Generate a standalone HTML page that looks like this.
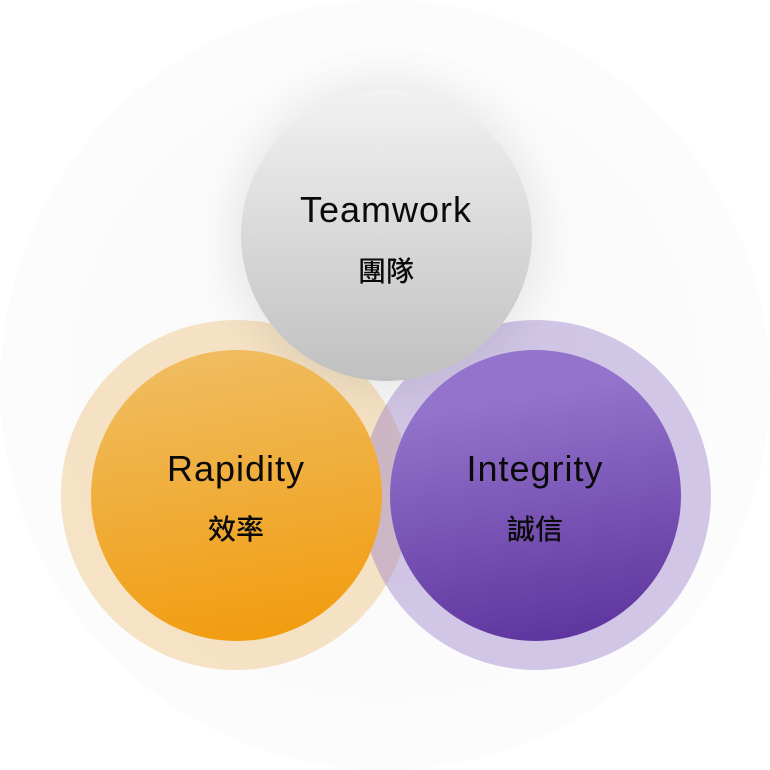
<!DOCTYPE html>
<html><head><meta charset="utf-8"><style>
html,body{margin:0;padding:0;background:#fff;}
.wrap{position:relative;width:770px;height:770px;overflow:hidden;background:#fff;}
.c{position:absolute;border-radius:50%;}
.t{position:absolute;width:300px;text-align:center;color:#0a0a0a;font-family:"Liberation Sans","Noto Sans CJK TC",sans-serif;}
.en{font-size:36px;letter-spacing:1px;}
.zh{font-size:28px;font-weight:500;}
</style></head><body><div class="wrap">
<div class="c" style="left:0;top:0;width:770px;height:770px;background:radial-gradient(circle,rgba(242,242,242,0.5) 0%,rgba(246,246,246,0.4) 60%,rgba(255,255,255,0) 100%);"></div>
<div class="c" style="left:61px;top:320px;width:350px;height:350px;background:rgba(240,200,140,0.5);"></div>
<div class="c" style="left:361px;top:320px;width:350px;height:350px;background:rgba(150,125,200,0.42);"></div>
<div class="c" style="left:241px;top:90px;width:291px;height:291px;background:linear-gradient(180deg,#f2f2f2,#c0c0c0);box-shadow:0 0 40px 12px rgba(0,0,0,0.07);"></div>
<div class="c" style="left:91px;top:350px;width:291px;height:291px;background:linear-gradient(170deg,#f0bf66,#f19a0a);"></div>
<div class="c" style="left:390px;top:350px;width:291px;height:291px;background:linear-gradient(170deg,#9373cb 20%,#5a309b);"></div>
<div class="t en" style="left:236px;top:189px;">Teamwork</div>
<div class="t zh" style="left:236px;top:250px;">團隊</div>
<div class="t en" style="left:86px;top:448px;">Rapidity</div>
<div class="t zh" style="left:86px;top:508px;">效率</div>
<div class="t en" style="left:385px;top:448px;">Integrity</div>
<div class="t zh" style="left:385px;top:508px;">誠信</div>
</div></body></html>
